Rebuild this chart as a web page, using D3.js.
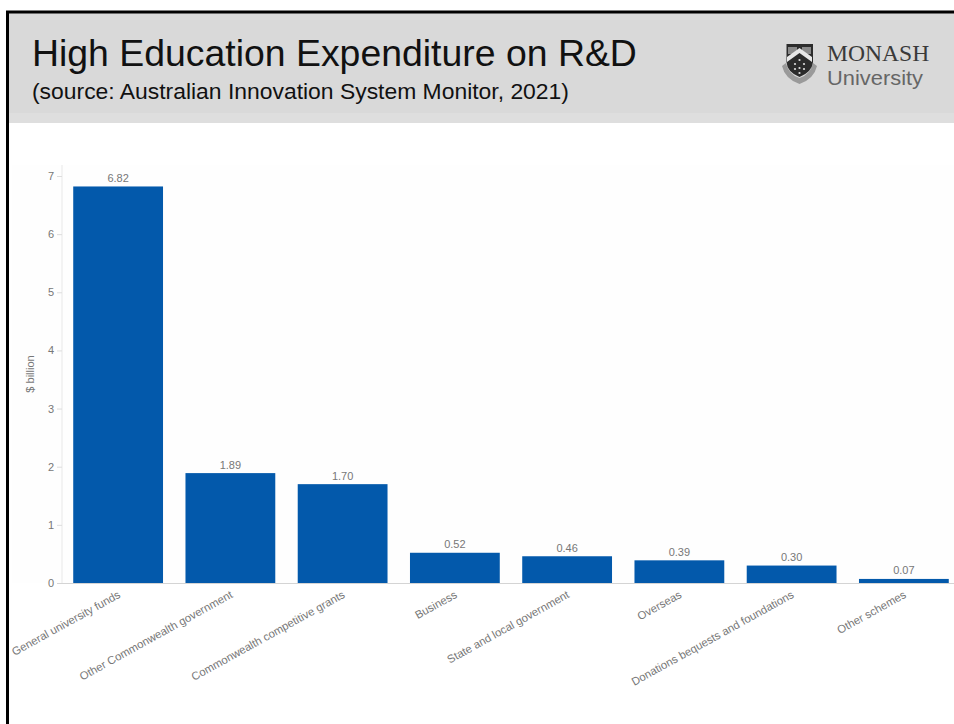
<!DOCTYPE html>
<html><head><meta charset="utf-8">
<script src="https://cdn.jsdelivr.net/npm/d3@7"></script>
<style>html,body{margin:0;padding:0;background:#fff}svg{display:block}text{font-family:"Liberation Sans",Arial,sans-serif}</style>
</head><body><div id="c"></div>
<script>
const categories=["General university funds","Other Commonwealth government","Commonwealth competitive grants","Business","State and local government","Overseas","Donations bequests and foundations","Other schemes"];
const values=[6.82,1.89,1.70,0.52,0.46,0.39,0.30,0.07];
const valueLabels=["6.82","1.89","1.70","0.52","0.46","0.39","0.30","0.07"];
const yTicks=[0,1,2,3,4,5,6,7];
const title="High Education Expenditure on R&D";
const subtitle="(source: Australian Innovation System Monitor, 2021)";

const svg=d3.select("#c").append("svg").attr("width",954).attr("height",724);
svg.append("rect").attr("width",954).attr("height",724).attr("fill","#fff");
svg.append("rect").attr("x",9).attr("y",13).attr("width",945).attr("height",100).attr("fill","#d9d9d9");
svg.append("rect").attr("x",9).attr("y",113).attr("width",945).attr("height",10).attr("fill","#dedede");
svg.append("path").attr("d","M7.5,724V12H954").attr("fill","none").attr("stroke","#000").attr("stroke-width",3);
svg.append("text").attr("x",32).attr("y",66).attr("font-size",37.4).attr("fill","#111").text(title);
svg.append("text").attr("x",32).attr("y",98.5).attr("font-size",22.9).attr("fill","#111").text(subtitle);

// logo
const logo=svg.append("g");
logo.append("path").attr("d","M782,66Q785,79 799.5,84Q814,79 817,66L813,63Q811,74 799.5,78Q788,74 786,63Z").attr("fill","#9a9a9a");
logo.append("path").attr("d","M786.5,44H813V62Q812,72 799.5,77Q787,72 786.5,62Z").attr("fill","#2c2c2c");
logo.append("path").attr("d","M788,47H797V54H788ZM802,47H811V54H802Z").attr("fill","#8a8a8a");
logo.append("path").attr("d","M787,62L799.5,53L812,62L812,57L799.5,48L787,57Z").attr("fill","#e8e8e8");
logo.append("g").selectAll("circle").data([[799.5,60],[795,64],[804,64],[799.5,68],[795,69],[804,69],[799.5,73]]).join("circle")
  .attr("cx",d=>d[0]).attr("cy",d=>d[1]).attr("r",1.1).attr("fill","#ddd");
logo.append("text").attr("x",827).attr("y",60.5).attr("font-size",23.6).attr("fill","#3a3a3a").style("font-family","'Liberation Serif',serif").text("MONASH");
logo.append("text").attr("x",827).attr("y",85).attr("font-size",21).attr("textLength",96).attr("lengthAdjust","spacingAndGlyphs").attr("fill","#666").text("University");

const x=d3.scaleBand().domain(categories).range([62,960]).paddingInner(0.2).paddingOuter(0.1);
const y=d3.scaleLinear().domain([0,7]).range([583,176]);
const tickColor="#777";

svg.append("rect").attr("x",12).attr("y",165).attr("width",942).attr("height",418).attr("fill","#fefefe");

const ya=svg.append("g").attr("transform","translate(62,0)")
  .call(d3.axisLeft(y).tickValues(yTicks).tickFormat(d3.format("d")).tickSize(5).tickPadding(3));
ya.select(".domain").attr("d","M0,165V583").attr("stroke","#e8e8e8");
ya.selectAll(".tick line").attr("stroke","#dddddd");
ya.selectAll("text").attr("font-size",11).attr("fill",tickColor).style("font-family","'Liberation Sans',sans-serif");

const xa=svg.append("g").attr("transform","translate(0,583)")
  .call(d3.axisBottom(x).tickSize(0).tickPadding(0));
xa.select(".domain").attr("d","M57,0.5H954").attr("stroke","#d4d4d4");
xa.selectAll(".tick text")
  .attr("font-size",11.3).attr("fill",tickColor).style("font-family","'Liberation Sans',sans-serif")
  .attr("text-anchor","end").attr("dy",0).attr("y",0)
  .attr("transform","translate(3,14) rotate(-29)");

svg.append("text").attr("transform","translate(34,374) rotate(-90)").attr("text-anchor","middle")
  .attr("font-size",11).attr("fill",tickColor).text("$ billion");

svg.append("g").selectAll("rect").data(values).join("rect")
  .attr("x",(d,i)=>x(categories[i])).attr("width",x.bandwidth())
  .attr("y",d=>y(d)).attr("height",d=>y(0)-y(d)).attr("fill","#0359ab");
svg.append("g").selectAll("text").data(values).join("text")
  .attr("x",(d,i)=>x(categories[i])+x.bandwidth()/2).attr("y",d=>y(d)-4.5)
  .attr("text-anchor","middle").attr("font-size",11).attr("fill",tickColor)
  .text((d,i)=>valueLabels[i]);
</script></body></html>
